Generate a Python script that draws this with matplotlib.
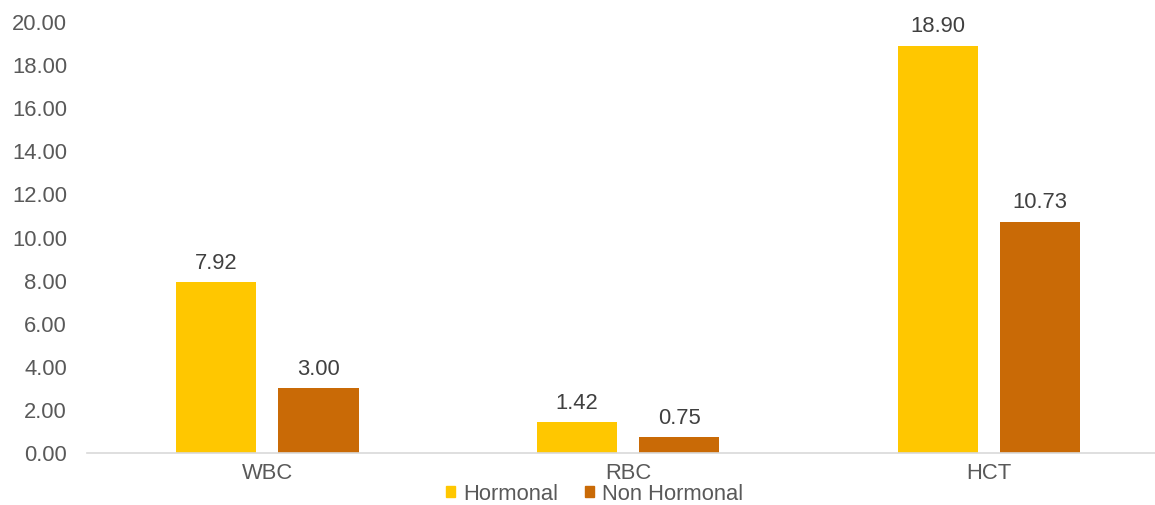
import matplotlib
matplotlib.use("Agg")
import matplotlib.pyplot as plt
from matplotlib.patches import Patch
import numpy as np

categories = ["WBC", "RBC", "HCT"]
hormonal = [7.92, 1.42, 18.90]
non_hormonal = [3.00, 0.75, 10.73]
series_names = ["Hormonal", "Non Hormonal"]
y_ticks = [0, 2, 4, 6, 8, 10, 12, 14, 16, 18, 20]

colors = ["#FFC700", "#C96A06"]
text_grey = "#595959"
label_grey = "#404040"
fs = 15.8

plt.rcParams["font.family"] = ["Liberation Sans", "DejaVu Sans"]

W, H = 1155, 505
fig = plt.figure(figsize=(W / 100, H / 100), dpi=100)
left, right = 87, 1155
y0, y20 = 453, 22
ax = fig.add_axes([left / W, (H - y0) / H, (right - left) / W, (y0 - y20) / H])

x = np.arange(len(categories))
bw = 0.222
off = 0.1415
b1 = ax.bar(x - off, hormonal, bw, color=colors[0], zorder=2)
b2 = ax.bar(x + off, non_hormonal, bw, color=colors[1], zorder=2)

for bars, vals in ((b1, hormonal), (b2, non_hormonal)):
    for rect, v in zip(bars, vals):
        ax.annotate(f"{v:.2f}", (rect.get_x() + rect.get_width() / 2, v),
                    xytext=(0, 6), textcoords="offset points",
                    ha="center", va="bottom", fontsize=fs, color=label_grey)

ax.set_xlim(-0.5, (1155 - 267) / 361)
ax.set_ylim(0, 20)
ax.set_yticks(y_ticks)
ax.set_yticklabels([f"{t:.2f}" for t in y_ticks])
ax.set_xticks(x)
ax.set_xticklabels(categories)
ax.tick_params(axis="both", length=0, labelsize=fs, colors=text_grey)
ax.tick_params(axis="y", pad=14.4)
ax.tick_params(axis="x", pad=7)

for s in ("top", "right", "left"):
    ax.spines[s].set_visible(False)
ax.spines["bottom"].set_color("#D9D9D9")
ax.spines["bottom"].set_linewidth(1.2)

handles = [Patch(color=c) for c in colors]
fig.legend(handles, series_names, loc="center", bbox_to_anchor=(594.5 / W, (H - 494) / H),
           ncol=2, frameon=False, fontsize=fs, handlelength=0.41, handleheight=0.41,
           handletextpad=0.36, columnspacing=1.2, labelcolor=text_grey,
           borderpad=0, borderaxespad=0)

fig.savefig("out.png", dpi=100)
